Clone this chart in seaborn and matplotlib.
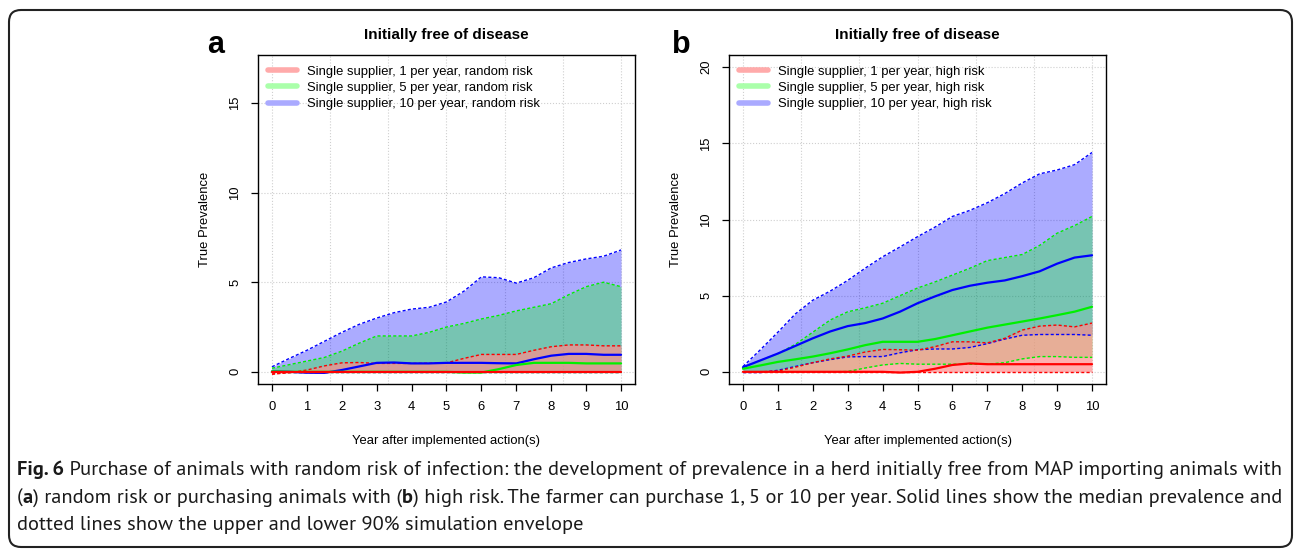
import numpy as np
import pandas as pd
import seaborn as sns
import matplotlib
matplotlib.use("Agg")
import matplotlib.pyplot as plt
from matplotlib import font_manager
from matplotlib.lines import Line2D
from matplotlib.patches import FancyBboxPatch
from matplotlib.transforms import IdentityTransform

# ---------------- data ----------------
years = [0, 0.5, 1, 1.5, 2, 2.5, 3, 3.5, 4, 4.5, 5, 5.5, 6, 6.5, 7, 7.5, 8, 8.5, 9, 9.5, 10]

# panel a: random risk
a_blue_hi = [0.28, 0.75, 1.2, 1.7, 2.2, 2.65, 3.0, 3.3, 3.5, 3.6, 3.9, 4.5, 5.3, 5.25, 4.95, 5.25, 5.8, 6.1, 6.3, 6.45, 6.8]
a_blue_med = [0.02, 0.0, -0.05, -0.06, 0.1, 0.3, 0.5, 0.52, 0.47, 0.47, 0.5, 0.5, 0.5, 0.48, 0.47, 0.7, 0.9, 1.0, 1.0, 0.95, 0.95]
a_blue_lo = [0.0] * 21
a_green_hi = [0.2, 0.4, 0.6, 0.8, 1.15, 1.6, 2.0, 2.0, 2.0, 2.2, 2.5, 2.7, 2.95, 3.15, 3.4, 3.6, 3.8, 4.3, 4.75, 5.0, 4.75]
a_green_med = [0.02, 0, 0, 0, 0, 0, 0, 0, 0, 0, 0, -0.04, -0.04, 0.15, 0.38, 0.5, 0.5, 0.5, 0.47, 0.47, 0.47]
a_green_lo = [0.0] * 21
a_red_hi = [-0.13, -0.05, 0.1, 0.33, 0.5, 0.52, 0.47, 0.47, 0.47, 0.48, 0.5, 0.75, 0.97, 0.97, 0.97, 1.2, 1.4, 1.5, 1.5, 1.45, 1.45]
a_red_med = [0.0] * 21
a_red_lo = [-0.13] + [0.0] * 20

# panel b: high risk
b_blue_hi = [0.35, 1.45, 2.6, 3.8, 4.7, 5.3, 6.0, 6.8, 7.55, 8.2, 8.87, 9.5, 10.2, 10.6, 11.1, 11.7, 12.4, 13.0, 13.25, 13.6, 14.4]
b_blue_med = [0.3, 0.75, 1.2, 1.7, 2.2, 2.65, 3.0, 3.2, 3.5, 3.95, 4.5, 4.95, 5.37, 5.65, 5.85, 6.0, 6.28, 6.6, 7.1, 7.5, 7.65]
b_blue_lo = [-0.05, -0.05, 0.1, 0.35, 0.6, 0.8, 0.98, 1.0, 1.0, 1.25, 1.45, 1.5, 1.5, 1.6, 1.85, 2.15, 2.4, 2.45, 2.45, 2.45, 2.4]
b_green_hi = [0.3, 0.75, 1.2, 1.8, 2.6, 3.4, 3.94, 4.2, 4.5, 5.0, 5.5, 5.9, 6.35, 6.8, 7.3, 7.5, 7.7, 8.3, 9.1, 9.6, 10.2]
b_green_med = [0.2, 0.42, 0.65, 0.82, 1.0, 1.22, 1.47, 1.75, 1.97, 1.97, 1.97, 2.15, 2.4, 2.65, 2.9, 3.1, 3.3, 3.5, 3.72, 3.95, 4.27]
b_green_lo = [0, 0, 0, 0, 0, 0, 0.02, 0.25, 0.45, 0.55, 0.5, 0.5, 0.5, 0.5, 0.5, 0.6, 0.85, 1.0, 1.0, 0.95, 0.95]
b_red_hi = [0.0, 0.0, 0.05, 0.3, 0.6, 0.85, 1.03, 1.3, 1.47, 1.45, 1.42, 1.65, 1.97, 1.97, 1.9, 2.2, 2.74, 3.0, 3.07, 2.95, 3.2]
b_red_med = [0, 0, 0, 0, 0, 0, 0, 0, 0, -0.05, 0, 0.2, 0.45, 0.55, 0.5, 0.5, 0.5, 0.5, 0.5, 0.5, 0.5]
b_red_lo = [0.0] * 21

labels_a = ["Single supplier, 1 per year, random risk",
            "Single supplier, 5 per year, random risk",
            "Single supplier, 10 per year, random risk"]
labels_b = ["Single supplier, 1 per year, high risk",
            "Single supplier, 5 per year, high risk",
            "Single supplier, 10 per year, high risk"]
panel_title = "Initially free of disease"
xlabel = "Year after implemented action(s)"
ylabel = "True Prevalence"
xticks = list(range(0, 11))
yticks_a = [0, 5, 10, 15]
yticks_b = [0, 5, 10, 15, 20]
ymax_a = 17
ymax_b = 20

caption1 = [("Fig. 6", "bold"), (" Purchase of animals with random risk of infection: the development of prevalence in a herd initially free from MAP importing animals with", "normal")]
caption2 = [("(", "normal"), ("a", "bold"), (") random risk or purchasing animals with (", "normal"), ("b", "bold"),
            (") high risk. The farmer can purchase 1, 5 or 10 per year. Solid lines show the median prevalence and", "normal")]
caption3 = [("dotted lines show the upper and lower 90% simulation envelope", "normal")]

# ---------------- style ----------------
sns.set_style("white")
plt.rcParams["font.family"] = ["Liberation Sans", "DejaVu Sans"]
for k in ("text.color", "axes.labelcolor", "xtick.color", "ytick.color"):
    plt.rcParams[k] = "black"

# caption font: a humanist sans that really has separate regular and bold faces
weights = {}
for f in font_manager.fontManager.ttflist:
    if f.style == "normal":
        weights.setdefault(f.name, set()).add(f.weight)


def has_reg_bold(name):
    w = weights.get(name, set())
    return (400 in w or "normal" in w or "regular" in w) and (700 in w or "bold" in w)


cap_font = next((f for f in ("PT Sans", "Fira Sans", "Source Sans Pro", "Cabin", "Open Sans", "Noto Sans",
                             "Lato", "Liberation Sans") if has_reg_bold(f)), "DejaVu Sans")

W, H = 1296, 550
fig = plt.figure(figsize=(W / 100, H / 100), dpi=100)


def px_rect(x0, y0, x1, y1):
    return [x0 / W, 1 - y1 / H, (x1 - x0) / W, (y1 - y0) / H]


ax_a = fig.add_axes(px_rect(258, 55, 635, 384))
ax_b = fig.add_axes(px_rect(729, 55, 1106, 384))

RED_FILL = (1.0, 0.55, 0.55, 0.7)
GREEN_FILL = (0.0, 1.0, 0.0, 0.3)
BLUE_FILL = (0.0, 0.0, 1.0, 0.33)
dash = (0, (2.2, 1.6))
FS = 9.4


def draw_panel(ax, series, labels, yticks, ymax):
    # grid
    for gx in np.linspace(0, 10, 7):
        ax.axvline(gx, color="#cfcfcf", lw=0.8, ls=":", zorder=0)
    for gy in yticks:
        ax.axhline(gy, color="#cfcfcf", lw=0.8, ls=":", zorder=0)
    # fills (blue, green, red)
    for key, fc in (("blue", BLUE_FILL), ("green", GREEN_FILL), ("red", RED_FILL)):
        lo, med, hi = series[key]
        ax.fill_between(years, lo, hi, color=fc, lw=0, zorder=1)
    # lines
    for key, col in (("blue", "#0000ff"), ("green", "#00f000"), ("red", "#ff0000")):
        lo, med, hi = series[key]
        df = pd.DataFrame({"x": years, "lo": lo, "med": med, "hi": hi})
        sns.lineplot(data=df, x="x", y="hi", ax=ax, color=col, lw=1.0, linestyle=dash, zorder=3)
        sns.lineplot(data=df, x="x", y="lo", ax=ax, color=col, lw=1.0, linestyle=dash, zorder=3)
        sns.lineplot(data=df, x="x", y="med", ax=ax, color=col, lw=1.6, zorder=4)
    ax.set_xlim(-0.4, 10.4)
    ax.set_ylim(-0.04 * ymax, 1.04 * ymax)
    ax.set_xticks(xticks)
    ax.set_yticks(yticks)
    ax.tick_params(axis="both", direction="out", length=5, width=0.9, labelsize=FS, pad=7,
                   bottom=True, left=True, colors="black")
    ax.tick_params(axis="y", labelrotation=90)
    for lab in ax.get_yticklabels():
        lab.set_va("center")
    for s in ax.spines.values():
        s.set_color("black")
        s.set_linewidth(1.0)
    ax.set_xlabel(xlabel, fontsize=FS)
    ax.set_ylabel(ylabel, fontsize=FS)
    ax.xaxis.set_label_coords(0.5, -0.155)
    ax.yaxis.set_label_coords(-0.125, 0.5)
    ax.text(0.5, 1 + 20 / 329, panel_title, transform=ax.transAxes, ha="center", va="center",
            fontsize=11, fontweight="bold")
    handles = [Line2D([], [], color=c, lw=4) for c in ("#ffaaaa", "#aaffaa", "#aaaaff")]
    ax.legend(handles, labels, loc="upper left", bbox_to_anchor=(0.0, 1.0), frameon=False,
              fontsize=FS, handlelength=2.15, handletextpad=0.8, labelspacing=0.32,
              borderaxespad=0.5, borderpad=0.3)


draw_panel(ax_a, {"blue": (a_blue_lo, a_blue_med, a_blue_hi),
                  "green": (a_green_lo, a_green_med, a_green_hi),
                  "red": (a_red_lo, a_red_med, a_red_hi)}, labels_a, yticks_a, ymax_a)
draw_panel(ax_b, {"blue": (b_blue_lo, b_blue_med, b_blue_hi),
                  "green": (b_green_lo, b_green_med, b_green_hi),
                  "red": (b_red_lo, b_red_med, b_red_hi)}, labels_b, yticks_b, ymax_b)

fig.text(216 / W, 1 - 53 / H, "a", ha="center", va="baseline", fontsize=22, fontweight="bold")
fig.text(681 / W, 1 - 53 / H, "b", ha="center", va="baseline", fontsize=22, fontweight="bold")

# border
fig.patches.append(FancyBboxPatch((9, H - 547), 1283, 537, boxstyle="round,pad=0,rounding_size=12",
                                  transform=IdentityTransform(), fill=False, lw=1.5, ec="#222222"))

# caption
renderer = fig.canvas.get_renderer()
cap_family = [cap_font, "DejaVu Sans"]


def line_width(parts, fs):
    w = 0.0
    for txt, wt in parts:
        p = fig.text(0, 0, txt, fontsize=fs, fontweight=wt, family=cap_family)
        w += p.get_window_extent(renderer).width
        p.remove()
    return w


def caption_line(parts, y_px, fs):
    x = 17.0
    for txt, wt in parts:
        t = fig.text(x / W, 1 - y_px / H, txt, ha="left", va="center", fontsize=fs,
                     fontweight=wt, family=cap_family, color="#1a1a1a")
        x = t.get_window_extent(renderer).x1
    return x


wmax = max(line_width(caption1, 15), line_width(caption2, 15))
fs_cap = min(16.0, 15 * 1261 / wmax)
caption_line(caption1, 470, fs_cap)
caption_line(caption2, 498, fs_cap)
caption_line(caption3, 525, fs_cap)

fig.savefig("out.png", dpi=100)
